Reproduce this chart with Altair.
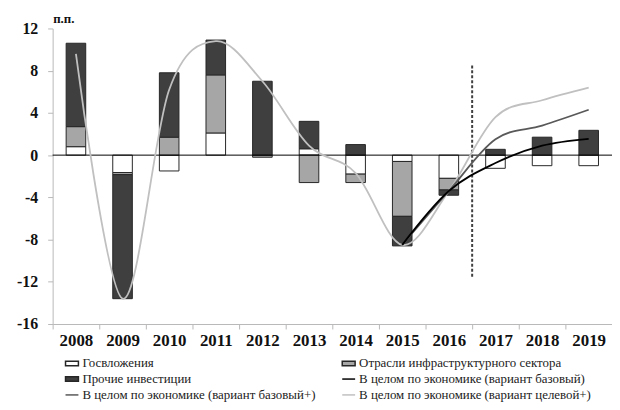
import json
import altair as alt
import pandas as pd

# ---------------- data ----------------
years = ["2008", "2009", "2010", "2011", "2012", "2013",
         "2014", "2015", "2016", "2017", "2018", "2019"]

gov_invest = [0.8, -1.65, -1.5, 2.1, 0.0, 0.6, -1.8, -0.6, -2.2, -1.25, -1.0, -1.0]
infra_sector = [1.9, -0.2, 1.7, 5.5, -0.2, -2.6, -0.8, -5.2, -1.1, 0.0, 0.0, 0.0]
other_invest = [7.9, -11.75, 6.1, 3.3, 7.0, 2.6, 1.0, -2.8, -0.5, 0.55, 1.7, 2.35]

econ_target = [9.6, -13.6, 6.2, 10.8, 7.0, 0.9, -1.7, -8.5, -3.4, 3.6, 5.2, 6.4]
forecast_years = ["2015", "2016", "2017", "2018", "2019"]
econ_base = [-8.5, -3.4, -0.75, 0.9, 1.55]
econ_base_plus = [-8.5, -3.4, 1.5, 2.8, 4.3]

divider_year = ["2017"]
divider_top = [8.5]
divider_bottom = [-11.6]

bar_names = ["Госвложения", "Отрасли инфраструктурного сектора", "Прочие инвестиции"]
line_names = ["В целом по экономике (вариант базовый)",
              "В целом по экономике (вариант базовый+)",
              "В целом по экономике (вариант целевой+)"]

# legend is filled column by column: left column, then right column
legend_order = [bar_names[0], bar_names[2], line_names[1],
                bar_names[1], line_names[0], line_names[2]]
fill_colors = ["#ffffff", "#3f3f3f", "#595959", "#a6a6a6", "#000000", "#bfbfbf"]
stroke_colors = ["#262626", "#262626", "#595959", "#262626", "#000000", "#c0c0c0"]

y_ticks = [-16, -12, -8, -4, 0, 4, 8, 12]

# ---------------- tables ----------------
bar_rows = []
for order_idx, (name, arr) in enumerate(zip(bar_names, [gov_invest, infra_sector, other_invest])):
    for yr, v in zip(years, arr):
        if v != 0:
            bar_rows.append({"year": yr, "series": name, "value": v, "ord": order_idx})
bars_df = pd.DataFrame(bar_rows)

line_rows = []
for yr, v in zip(years, econ_target):
    line_rows.append({"year": yr, "series": line_names[2], "value": v})
for yr, v in zip(forecast_years, econ_base_plus):
    line_rows.append({"year": yr, "series": line_names[1], "value": v})
for yr, v in zip(forecast_years, econ_base):
    line_rows.append({"year": yr, "series": line_names[0], "value": v})
lines_df = pd.DataFrame(line_rows)

divider_df = pd.DataFrame({"year": divider_year, "top": divider_top, "bottom": divider_bottom})

# ---------------- styling ----------------
SERIF = "Liberation Serif"

fill_scale = alt.Scale(domain=legend_order, range=fill_colors)
stroke_scale = alt.Scale(domain=legend_order, range=stroke_colors)
x_scale = alt.Scale(domain=years, paddingInner=0, paddingOuter=0)
y_scale = alt.Scale(domain=[-16, 12], nice=False)

symbol_expr = (
    "indexof(" + json.dumps(bar_names, ensure_ascii=False) +
    ", datum.value) >= 0 ? 'M-1,-0.35H1V0.35H-1Z' : 'stroke'"
)

legend = alt.Legend(
    title=None, orient="none", legendX=12, legendY=330, columns=2,
    columnPadding=23, rowPadding=1, padding=0,
    symbolType=alt.ExprRef(expr=symbol_expr), symbolSize=169, symbolStrokeWidth=1.5,
    labelFont=SERIF, labelFontSize=13, labelColor="#222222", labelOffset=3, labelLimit=400,
)

x_axis = alt.Axis(
    title=None, labelAngle=0, tickBand="extent", tickSize=5,
    domainColor="#b8b8b8", tickColor="#b8b8b8",
    labelFont=SERIF, labelFontWeight="bold", labelFontSize=17, labelColor="#111111",
    labelPadding=4,
)

y_axis = alt.Axis(
    values=y_ticks, grid=False, tickSize=5,
    domainColor="#b8b8b8", tickColor="#b8b8b8",
    labelFont=SERIF, labelFontWeight="bold", labelFontSize=16, labelColor="#111111",
    labelPadding=10, labelExpr="datum.value + ''",
    title="п.п.", titleAngle=0, titleX=0, titleY=-6, titleAlign="left",
    titleBaseline="alphabetic", titleFont=SERIF, titleFontWeight="bold",
    titleFontSize=13, titleColor="#111111",
)

# ---------------- layers ----------------
bars = alt.Chart(bars_df).mark_bar(width=alt.RelativeBandSize(0.42), strokeWidth=1).encode(
    x=alt.X("year:N", scale=x_scale, axis=x_axis),
    y=alt.Y("value:Q", stack="zero", scale=y_scale, axis=y_axis),
    fill=alt.Fill("series:N", scale=fill_scale, legend=legend),
    stroke=alt.Stroke("series:N", scale=stroke_scale, legend=legend),
    order=alt.Order("ord:Q"),
)

zero_line = alt.Chart(pd.DataFrame({"z": [0]})).mark_rule(color="#000000", strokeWidth=1).encode(
    y=alt.Y("z:Q", scale=y_scale, axis=y_axis),
)

divider = alt.Chart(divider_df).mark_rule(color="#404040", strokeWidth=2, strokeDash=[3, 2]).encode(
    x=alt.X("year:N", bandPosition=0, scale=x_scale, axis=x_axis),
    y=alt.Y("top:Q", scale=y_scale, axis=y_axis),
    y2="bottom:Q",
)

lines = alt.Chart(lines_df).mark_line(interpolate="cardinal", strokeWidth=1.8).encode(
    x=alt.X("year:N", scale=x_scale, axis=x_axis),
    y=alt.Y("value:Q", scale=y_scale, axis=y_axis),
    stroke=alt.Stroke("series:N", scale=stroke_scale, legend=legend),
)

chart = alt.layer(bars, zero_line, divider, lines).properties(
    width=564, height=298,
    padding={"left": 45, "top": 19, "right": 0, "bottom": 77},
    autosize=alt.AutoSizeParams(type="none"),
    background="#ffffff",
).configure_view(
    strokeWidth=0
).configure_legend(
    labelFont=SERIF, labelFontSize=13, labelColor="#222222"
)

chart.save("out.html", embed_options={"renderer": "svg", "actions": False})
